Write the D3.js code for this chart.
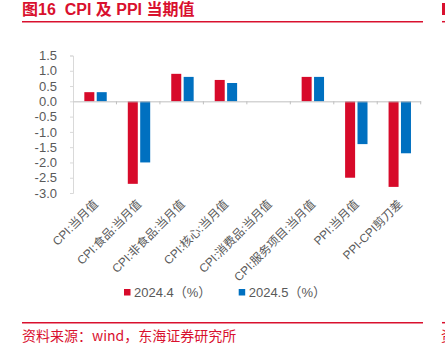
<!DOCTYPE html>
<html>
<head>
<meta charset="utf-8">
<script src="https://cdn.jsdelivr.net/npm/d3@7"></script>
<style>
  html, body { margin: 0; padding: 0; background: #fff; }
  svg { display: block; }
  text { white-space: pre; }
</style>
</head>
<body>
<svg id="chart" width="445" height="344"></svg>
<script>
// CPI / PPI current-period readings
const categories = ["CPI:当月值", "CPI:食品:当月值", "CPI:非食品:当月值", "CPI:核心:当月值",
                    "CPI:消费品:当月值", "CPI:服务项目:当月值", "PPI:当月值", "PPI-CPI剪刀差"];
const seriesNames = ["2024.4（%）", "2024.5（%）"];
const apr2024 = [0.3, -2.7, 0.9, 0.7, 0.0, 0.8, -2.5, -2.8];
const may2024 = [0.3, -2.0, 0.8, 0.6, 0.0, 0.8, -1.4, -1.7];
const yTicks = [1.5, 1.0, 0.5, 0.0, -0.5, -1.0, -1.5, -2.0, -2.5, -3.0];

const colors = ["#d70a2a", "#0070c0"];
const svg = d3.select("#chart");
const font = "Arial, 'Liberation Sans', 'Noto Sans CJK SC', sans-serif";
const red = "#d9102e";

// Header
svg.append("text").attr("x", 22).attr("y", 15)
  .attr("font-family", "Arial, 'Liberation Sans', 'Noto Sans CJK SC', sans-serif")
  .attr("font-weight", "bold").attr("font-size", 16).attr("fill", red)
  .text("图16  CPI 及 PPI 当期值");
svg.append("line").attr("x1", 22).attr("x2", 423).attr("y1", 21.7).attr("y2", 21.7)
  .attr("stroke", red).attr("stroke-width", 1.5);
// neighbouring panel edge
svg.append("rect").attr("x", 442).attr("y", 3).attr("width", 3).attr("height", 12).attr("fill", red);
svg.append("line").attr("x1", 442).attr("x2", 445).attr("y1", 21.7).attr("y2", 21.7)
  .attr("stroke", red).attr("stroke-width", 1.5);

// Plot scales
const x0 = d3.scaleBand().domain(categories).range([73, 420.7]).paddingInner(0).paddingOuter(0);
const y = d3.scaleLinear().domain([-3.0, 1.5]).range([193, 55.5]);

// Y axis
const yAxis = d3.axisLeft(y).tickValues(yTicks).tickFormat(d3.format(".1f")).tickSize(3).tickPadding(13);
const gy = svg.append("g").attr("transform", "translate(73,0)").call(yAxis);
gy.select(".domain").attr("stroke", "#d9d9d9");
gy.selectAll(".tick line").attr("stroke", "#d9d9d9");
gy.selectAll(".tick text").attr("font-family", font).attr("font-size", 13).attr("fill", "#595959")
  .text(d => d3.format(".1f")(d).replace("−", "-"));

// Bars
const bw = 10, gap = 2.4;
const groups = svg.append("g").selectAll("g").data(categories).join("g")
  .attr("transform", c => `translate(${x0(c) + x0.bandwidth() / 2},0)`);
[apr2024, may2024].forEach((vals, si) => {
  groups.append("rect")
    .attr("x", si === 0 ? -bw - gap / 2 + 0.8 : gap / 2 + 0.8)
    .attr("width", bw)
    .attr("y", (c, i) => y(Math.max(0, vals[i])))
    .attr("height", (c, i) => Math.abs(y(vals[i]) - y(0)))
    .attr("fill", colors[si]);
});

// X axis along zero
const xAxis = d3.axisBottom(x0).tickSize(0).tickFormat("");
const gx = svg.append("g").attr("transform", `translate(0,${y(0)})`).call(xAxis);
gx.select(".domain").attr("stroke", "#bfbfbf").attr("stroke-width", 1);
gx.selectAll(".tick").remove();
svg.append("g").selectAll("line").data(categories).join("line")
  .attr("x1", c => x0(c) + x0.bandwidth()).attr("x2", c => x0(c) + x0.bandwidth())
  .attr("y1", y(0)).attr("y2", y(0) + 3).attr("stroke", "#bfbfbf");

// Category labels, rotated
svg.append("g").selectAll("text").data(categories).join("text")
  .attr("transform", c => `translate(${x0(c) + x0.bandwidth() / 2 + 4},205) rotate(-45)`)
  .attr("text-anchor", "end")
  .attr("font-family", font).attr("font-size", 11.8).attr("fill", "#595959")
  .text(c => c);

// Legend
const legend = [{ x: 124, name: seriesNames[0], c: colors[0] }, { x: 238.7, name: seriesNames[1], c: colors[1] }];
const lg = svg.append("g").selectAll("g").data(legend).join("g")
  .attr("transform", d => `translate(${d.x},289)`);
lg.append("rect").attr("width", 6.5).attr("height", 6.5).attr("fill", d => d.c);
lg.append("text").attr("x", 10).attr("y", 8).attr("font-family", font).attr("font-size", 13)
  .attr("fill", "#595959").text(d => d.name);

// Footer
svg.append("line").attr("x1", 22).attr("x2", 423).attr("y1", 322.7).attr("y2", 322.7)
  .attr("stroke", red).attr("stroke-width", 1.5);
svg.append("line").attr("x1", 442).attr("x2", 445).attr("y1", 322.7).attr("y2", 322.7)
  .attr("stroke", red).attr("stroke-width", 1.5);
svg.append("text").attr("x", 22).attr("y", 341)
  .attr("font-family", "'Noto Sans CJK SC', sans-serif").attr("font-size", 14).attr("fill", red)
  .text("资料来源：wind，东海证券研究所");
svg.append("text").attr("x", 441).attr("y", 341)
  .attr("font-family", "'Noto Sans CJK SC', sans-serif").attr("font-size", 14).attr("fill", red)
  .text("资");
</script>
</body>
</html>
